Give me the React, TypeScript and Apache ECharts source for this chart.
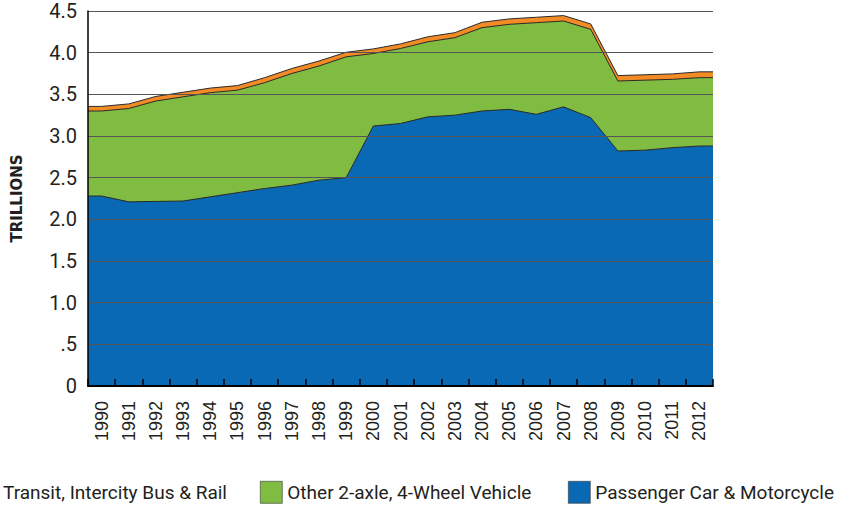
import React, { useEffect, useRef } from "react";
import * as echarts from "echarts";

const years = ["1990","1991","1992","1993","1994","1995","1996","1997","1998","1999","2000","2001","2002","2003","2004","2005","2006","2007","2008","2009","2010","2011","2012"];
const passengerCar = [2.28, 2.21, 2.215, 2.22, 2.27, 2.32, 2.37, 2.41, 2.47, 2.50, 3.12, 3.15, 3.23, 3.25, 3.30, 3.32, 3.26, 3.35, 3.22, 2.82, 2.83, 2.86, 2.88];
const other2Axle = [1.02, 1.12, 1.205, 1.25, 1.25, 1.23, 1.27, 1.34, 1.37, 1.45, 0.87, 0.90, 0.90, 0.93, 1.00, 1.02, 1.10, 1.03, 1.06, 0.84, 0.84, 0.82, 0.82];
const transit = [0.055, 0.055, 0.055, 0.055, 0.055, 0.055, 0.06, 0.06, 0.06, 0.055, 0.055, 0.055, 0.06, 0.06, 0.065, 0.065, 0.065, 0.065, 0.065, 0.065, 0.065, 0.065, 0.07];

const NAMES = ["Transit, Intercity Bus & Rail", "Other 2-axle, 4-Wheel Vehicle", "Passenger Car & Motorcycle"];
const COLORS = ["#f28a26", "#80bc42", "#0a69b4"];

function cumulative(arrays: number[][]): number[] {
  return arrays[0].map((_, i) => arrays.reduce((s, a) => s + a[i], 0));
}

// points at band centres, with the end values carried to the plot edges
function toPoints(vals: number[]): number[][] {
  const pts: number[][] = [[0, vals[0]]];
  vals.forEach((v, i) => pts.push([i + 0.5, v]));
  pts.push([vals.length, vals[vals.length - 1]]);
  return pts;
}

export default function App() {
  const ref = useRef<HTMLDivElement>(null);
  useEffect(() => {
    if (!ref.current) return;
    const chart = echarts.init(ref.current, undefined, { renderer: "svg" });
    const blueTop = passengerCar;
    const greenTop = cumulative([passengerCar, other2Axle]);
    const orangeTop = cumulative([passengerCar, other2Axle, transit]);
    const tops = [orangeTop, greenTop, blueTop];

    const legendBase = {
      orient: "horizontal",
      top: 476,
      itemWidth: 22,
      itemHeight: 22,
      icon: "rect",
      itemStyle: { borderColor: "#333", borderWidth: 0.6 },
      textStyle: { fontFamily: "Roboto", fontSize: 19, color: "#231f20" },
      selectedMode: false,
    };

    chart.setOption({
      animation: false,
      grid: { left: 88, right: 130, top: 11, bottom: 120, containLabel: false, outerBoundsMode: "none" },
      legend: [
        { ...legendBase, left: -29, itemStyle: { opacity: 0, borderWidth: 0 }, data: [NAMES[0]] },
        { ...legendBase, left: 255, data: [NAMES[1]] },
        { ...legendBase, left: 563, data: [NAMES[2]] },
      ],
      xAxis: [
        {
          type: "category",
          data: years,
          boundaryGap: true,
          z: 11,
          axisLine: { show: true, lineStyle: { color: "#000", width: 2 } },
          axisTick: { show: true, inside: true, length: 7, interval: 0, lineStyle: { color: "#000", width: 1.5 } },
          axisLabel: {
            interval: 0,
            rotate: 90,
            margin: 15,
            padding: [0, 0, 8, 0],
            fontFamily: "Liberation Sans",
            fontSize: 18,
            color: "#231f20",
          },
          splitLine: { show: false },
        },
        {
          type: "value",
          min: 0,
          max: years.length,
          show: false,
          splitLine: { show: false },
        },
      ],
      yAxis: {
        type: "value",
        min: 0,
        max: 4.5,
        interval: 0.5,
        z: 10,
        name: "TRILLIONS",
        nameLocation: "middle",
        nameGap: 64,
        nameRotate: 90,
        nameTextStyle: { fontFamily: "DejaVu Sans", fontWeight: "bold", fontSize: 15, color: "#231f20" },
        axisLine: { show: true, lineStyle: { color: "#000", width: 1.5 } },
        axisTick: { show: false },
        axisLabel: {
          margin: 11,
          fontFamily: "Roboto",
          fontSize: 20,
          color: "#231f20",
          formatter: (v: number) => (v === 0 ? "0" : v === 0.5 ? ".5" : v.toFixed(1)),
        },
        splitLine: { show: true, lineStyle: { color: "#555", width: 1 } },
      },
      series: tops.map((vals, i) => ({
        name: NAMES[i],
        type: "line",
        xAxisIndex: 1,
        data: toPoints(vals),
        symbol: "none",
        silent: true,
        itemStyle: { color: COLORS[i] },
        lineStyle: { color: "#2a2a2a", width: 1 },
        areaStyle: { color: COLORS[i], opacity: 1 },
      })),
    });
    return () => chart.dispose();
  }, []);
  return <div ref={ref} style={{ width: 843, height: 506, position: "absolute", left: 0, top: 0 }} />;
}
